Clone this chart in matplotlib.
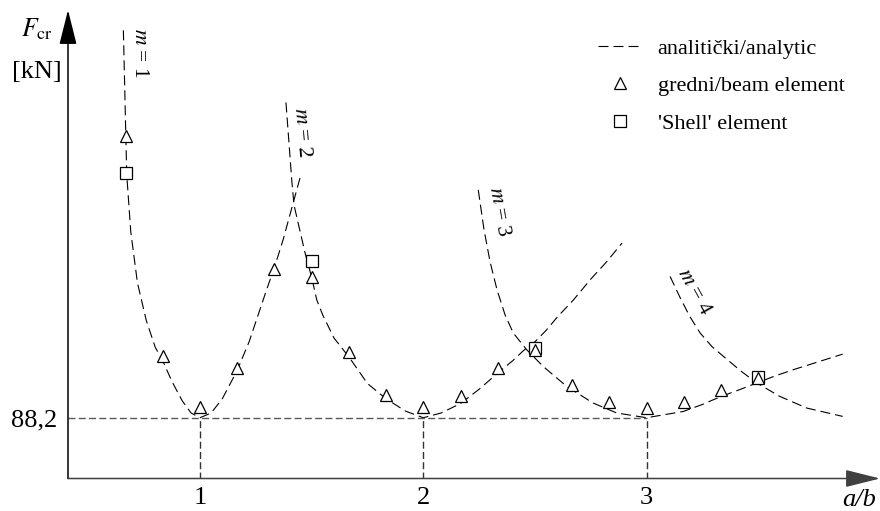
import matplotlib
matplotlib.use("Agg")
import matplotlib.pyplot as plt
from matplotlib.lines import Line2D

plt.rcParams['font.family'] = ['Liberation Serif', 'DejaVu Serif']
plt.rcParams['mathtext.fontset'] = 'stix'

# analytic curves: a/b and F_cr [kN] for each m
m1_ab = [0.657, 0.667, 0.672, 0.69, 0.72, 0.76, 0.80, 0.833, 0.875, 0.92, 0.96, 1.0,
         1.05, 1.10, 1.167, 1.22, 1.26, 1.30, 1.333, 1.373, 1.41, 1.452]
m1_F = [108.6, 103.5, 101.0, 98.0, 95.3, 93.3, 91.9, 91.2, 90.1, 89.1, 88.45, 88.2,
        88.45, 89.2, 90.7, 92.2, 93.6, 95.0, 96.1, 97.6, 99.2, 101.0]

m2_ab = [1.385, 1.411, 1.421, 1.47, 1.5, 1.523, 1.55, 1.60, 1.667, 1.75, 1.833, 1.92, 2.0,
         2.08, 2.167, 2.25, 2.333, 2.40, 2.45, 2.5, 2.55, 2.60, 2.672, 2.75, 2.82, 2.89]
m2_F = [104.8, 100.7, 99.4, 96.9, 95.6, 94.4, 93.6, 92.4, 91.4, 90.0, 89.2, 88.55, 88.2,
        88.45, 88.95, 89.7, 90.55, 91.2, 91.75, 92.2, 92.8, 93.5, 94.4, 95.5, 96.4, 97.4]

m3_ab = [2.246, 2.272, 2.299, 2.330, 2.366, 2.403, 2.463, 2.537, 2.642, 2.761, 2.866, 3.0,
         3.06, 3.164, 3.25, 3.333, 3.41, 3.493, 3.575, 3.657, 3.77, 3.878]
m3_F = [100.2, 98.09, 96.41, 94.94, 93.62, 92.66, 91.78, 90.90, 89.85, 88.97, 88.45, 88.2,
        88.32, 88.53, 88.9, 89.32, 89.65, 90.03, 90.4, 90.73, 91.15, 91.55]

m4_ab = [3.105, 3.150, 3.194, 3.239, 3.293, 3.356, 3.423, 3.493, 3.597, 3.717, 3.878]
m4_F = [95.64, 94.52, 93.52, 92.67, 91.94, 91.31, 90.65, 90.03, 89.32, 88.71, 88.27]

# numerical results
beam_ab = [0.667, 0.833, 1.0, 1.167, 1.333, 1.5, 1.667, 1.833, 2.0,
           2.167, 2.333, 2.5, 2.667, 2.833, 3.0, 3.167, 3.333, 3.5]
beam_F = [103.04, 91.46, 88.78, 90.82, 96.04, 95.61, 91.64, 89.41, 88.74,
          89.36, 90.82, 91.78, 89.91, 89.01, 88.69, 89.01, 89.64, 90.29]
shell_ab = [0.667, 1.5, 2.5, 3.5]
shell_F = [101.11, 96.46, 91.88, 90.36]

F_min = 88.2
min_ab = [1, 2, 3]
m_labels = ['1', '2', '3', '4']
m_label_pos = [(0.731, 107.41, -90), (1.457, 103.25, -85), (2.339, 99.04, -80), (3.212, 94.83, -61)]

fig = plt.figure(figsize=(8.8, 5.11), dpi=100)
ax = fig.add_axes([68 / 880, 32.5 / 511, 812 / 880, 468.5 / 511])
ax.set_xlim(0.409, 4.045)
ax.set_ylim(85.0, 109.67)
for s in ax.spines.values():
    s.set_visible(False)

dash = dict(color='k', lw=0.8, dashes=(9, 4.5))
for xs, ys in [(m1_ab, m1_F), (m2_ab, m2_F), (m3_ab, m3_F), (m4_ab, m4_F)]:
    ax.plot(xs, ys, **dash)

# 88,2 reference lines
x0 = ax.get_xlim()[0]
ax.plot([x0, min_ab[-1]], [F_min, F_min], color='0.35', lw=1.0, dashes=(5, 2.4))
ax.vlines(min_ab, ax.get_ylim()[0], F_min, color='0.2', lw=1.0, linestyles=(0, (5, 2.4)))

ax.plot(shell_ab, shell_F, ls='none', marker='s', ms=8.5, mfc='w', mec='k', mew=0.9, zorder=3)
ax.plot(beam_ab, beam_F, ls='none', marker='^', ms=8.5, mfc='w', mec='k', mew=0.9, zorder=4)

for lab, (x, y, rot) in zip(m_labels, m_label_pos):
    ax.text(x, y, r'$m$ = ' + lab, rotation=rot, rotation_mode='anchor',
            ha='center', va='center', fontsize=15.5)

# axes with arrows
arr = dict(arrowstyle='-|>,head_length=2.16,head_width=0.54', color='k', lw=1.1,
           shrinkA=0, shrinkB=0)
ax.annotate('', xy=(0, 1), xytext=(0, 0), xycoords='axes fraction', textcoords='axes fraction',
            arrowprops=arr)
ax.annotate('', xy=(1, 0), xytext=(0, 0), xycoords='axes fraction', textcoords='axes fraction',
            arrowprops=dict(arr, color='0.25'))

ax.set_xticks(min_ab)
ax.set_xticklabels(['1', '2', '3'], fontsize=19)
ax.set_yticks([F_min])
ax.set_yticklabels(['88,2'], fontsize=19)
ax.tick_params(length=0)
ax.tick_params(axis='x', pad=6)
ax.tick_params(axis='y', pad=8)

fig.text(21 / 880, 1 - 36 / 511, r'$F_{\mathrm{cr}}$', fontsize=18.5, ha='left', va='baseline')
fig.text(62 / 880, 1 - 78 / 511, '[kN]', fontsize=19, ha='right', va='baseline')
fig.text(842 / 880, 1 - 489 / 511, 'a/b', fontsize=19, style='italic', ha='left', va='top')

handles = [Line2D([], [], **dash),
           Line2D([], [], ls='none', marker='^', ms=8.5, mfc='w', mec='k', mew=0.9),
           Line2D([], [], ls='none', marker='s', ms=8.5, mfc='w', mec='k', mew=0.9)]
ax.legend(handles, ['analitički/analytic', 'gredni/beam element', "'Shell' element"],
          loc='upper left', bbox_to_anchor=(598 / 880, 1 - 38 / 511), bbox_transform=fig.transFigure,
          frameon=False, fontsize=16, handlelength=2.0, handletextpad=0.68,
          labelspacing=0.77, borderpad=0, borderaxespad=0)

fig.savefig('out.png', dpi=100)
